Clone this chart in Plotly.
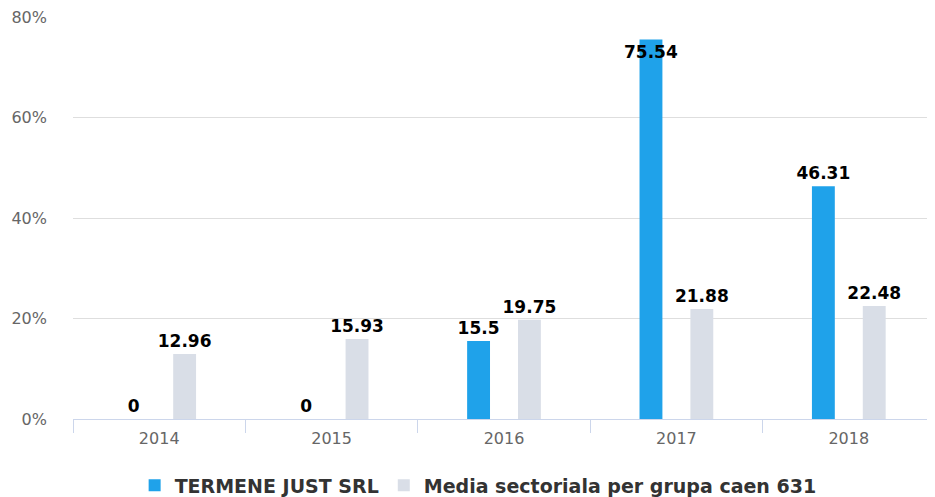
import plotly.graph_objects as go

years = ["2014", "2015", "2016", "2017", "2018"]
company = [0, 0, 15.5, 75.54, 46.31]
sector = [12.96, 15.93, 19.75, 21.88, 22.48]

BLUE = "#1fa2ea"
GREY = "#d9dee7"
FONT = "DejaVu Sans"

label_font = dict(family=FONT, size=17, color="#000000")

fig = go.Figure()

# company bars; the tallest one keeps its label inside like the original
fig.add_trace(go.Bar(
    x=years, y=company, name="<b>TERMENE JUST SRL</b>",
    marker=dict(color=BLUE, line=dict(width=0)),
    text=[f"<b>{v:g}</b>" for v in company],
    textposition=["outside" if v < 70 else "inside" for v in company],
    insidetextanchor="end", textangle=0,
    textfont=label_font, insidetextfont=label_font, outsidetextfont=label_font,
    constraintext="none", cliponaxis=False,
))

fig.add_trace(go.Bar(
    x=years, y=sector, name="<b>Media sectoriala per grupa caen 631</b>",
    marker=dict(color=GREY, line=dict(width=0)),
    text=[f"<b>{v:g}</b>" for v in sector],
    textposition="outside", textangle=0,
    textfont=label_font, outsidetextfont=label_font,
    constraintext="none", cliponaxis=False,
))

# page body adds an 8px offset, so the figure is a bit smaller than the window
fig.update_layout(
    width=927, height=489,
    margin=dict(l=65, r=0, t=9, b=78, autoexpand=False),
    plot_bgcolor="white", paper_bgcolor="white",
    barmode="group", bargap=0.41, bargroupgap=0.55,
    font=dict(family=FONT, size=16, color="#666666"),
    showlegend=True,
    legend=dict(
        orientation="h", x=0.47, xanchor="center", y=-0.165, yanchor="middle",
        font=dict(family=FONT, size=19, color="#333333"),
        itemclick=False,
    ),
)

fig.update_xaxes(
    type="category", tickson="boundaries", ticks="outside", ticklen=13,
    tickcolor="#ccd6eb", showline=True, linecolor="#ccd6eb", linewidth=1,
    showgrid=False, automargin=False, ticklabelstandoff=5,
    tickfont=dict(size=16, color="#666666"),
)
fig.update_yaxes(
    range=[0, 80], dtick=20, ticksuffix="%", showgrid=True,
    gridcolor="#dedede", zeroline=False, showline=False, automargin=False,
    ticklabelstandoff=25, ticklabeloverflow="allow",
    tickfont=dict(size=16, color="#666666"),
)

fig.write_html("out.html")
